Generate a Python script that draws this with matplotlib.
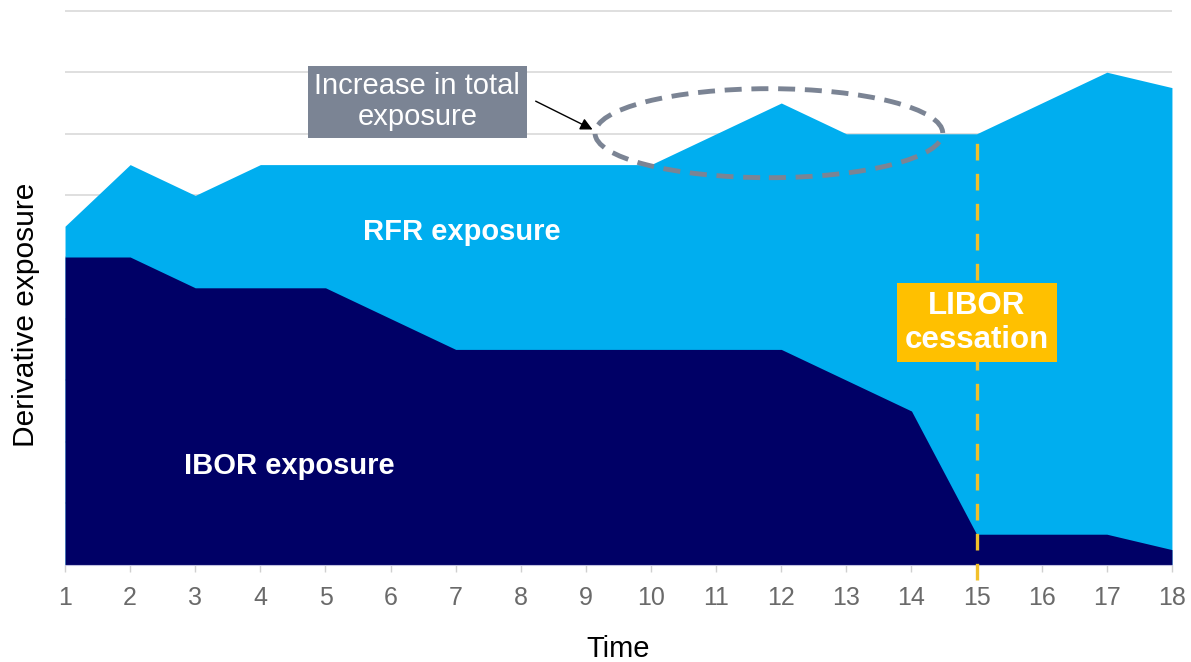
import matplotlib.pyplot as plt
from matplotlib.patches import Ellipse

plt.rcParams['font.family'] = ['Liberation Sans', 'DejaVu Sans']

time = list(range(1, 19))
total_exposure = [5.5, 6.5, 6.0, 6.5, 6.5, 6.5, 6.5, 6.5, 6.5, 6.5,
                  7.0, 7.5, 7.0, 7.0, 7.0, 7.5, 8.0, 7.75]
ibor_exposure = [5.0, 5.0, 4.5, 4.5, 4.5, 4.0, 3.5, 3.5, 3.5, 3.5,
                 3.5, 3.5, 3.0, 2.5, 0.5, 0.5, 0.5, 0.25]
cessation_time = 15

light_blue = '#00AEEF'
navy = '#000066'
slate = '#7B8494'
gold = '#FFC000'

fig = plt.figure(figsize=(11.91, 6.62), dpi=100)
ax = fig.add_axes([0.0546, 0.1465, 0.9294, 0.8468])

ax.fill_between(time, 0, total_exposure, color=light_blue, lw=0, zorder=2)
ax.fill_between(time, 0, ibor_exposure, color=navy, lw=0, zorder=3)

ax.set_xlim(1, 18)
ax.set_ylim(0, 9.1)
ax.set_yticks(range(1, 10))
ax.set_yticklabels([])
ax.tick_params(axis='y', length=0)
ax.grid(axis='y', color='#D9D9D9', lw=1.2, zorder=0)
ax.set_axisbelow(True)

for s in ['top', 'right', 'left']:
    ax.spines[s].set_visible(False)
ax.spines['bottom'].set_color('#BFBFDF')
ax.spines['bottom'].set_zorder(4)

ax.set_xticks(time)
ax.tick_params(axis='x', colors='#D0D0D0', length=5, width=1, labelsize=18,
               labelcolor='#6A6A6A', pad=10)

ax.set_xlabel('Time', fontsize=21, labelpad=18)
ax.set_ylabel('Derivative exposure', fontsize=21.5)
ax.yaxis.set_label_coords(-0.023, 0.446)

# LIBOR cessation marker
ax.plot([cessation_time, cessation_time], [-0.25, total_exposure[cessation_time - 1]],
        color='#F2C02A', lw=2.4, ls=(0, (5, 4)), zorder=5, clip_on=False)
ax.text(cessation_time, 3.93, 'LIBOR\ncessation', ha='center', va='center',
        fontsize=22.5, fontweight='bold', color='white', linespacing=1.15, zorder=6,
        bbox=dict(boxstyle='square,pad=0.25', fc=gold, ec='none'))

ax.text(7.1, 5.4, 'RFR exposure', ha='center', va='center', fontsize=21,
        fontweight='bold', color='white', zorder=6)
ax.text(4.44, 1.6, 'IBOR exposure', ha='center', va='center', fontsize=21,
        fontweight='bold', color='white', zorder=6)

# total exposure increase callout
ellipse = Ellipse((11.81, 7.01), 5.34, 1.445, fill=False, ec=slate, lw=3.5,
                  ls=(0, (3.5, 2)), zorder=6)
ax.add_patch(ellipse)
ax.text(6.41, 7.52, 'Increase in total\nexposure', ha='center', va='center',
        fontsize=21, color='white', linespacing=1.15, zorder=6,
        bbox=dict(boxstyle='square,pad=0.22', fc=slate, ec='none'))
ax.annotate('', xy=(9.14, 7.05), xytext=(8.19, 7.55),
            arrowprops=dict(arrowstyle='-|>', color='black', lw=1,
                            mutation_scale=18), zorder=7)

plt.savefig('out.png', dpi=100)
